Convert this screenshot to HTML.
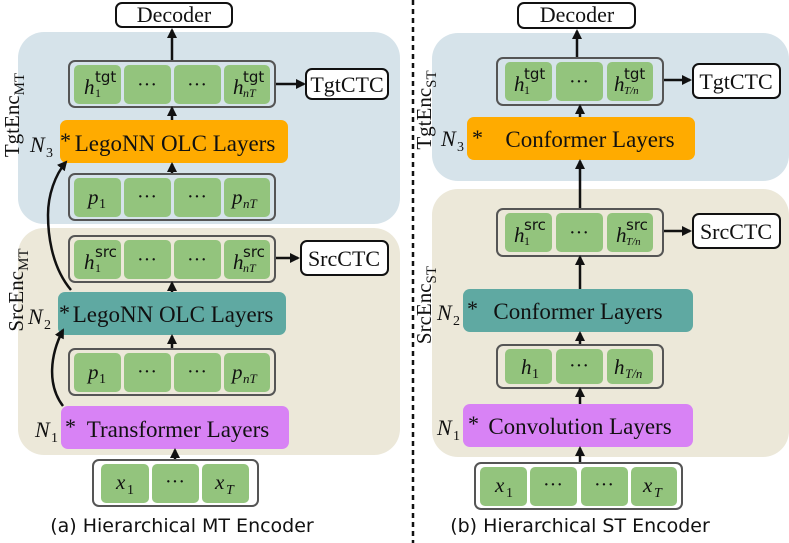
<!DOCTYPE html>
<html><head><meta charset="utf-8"><style>
html,body{margin:0;padding:0;background:#fff;}
svg{display:block;}
.s{font-family:"Liberation Serif",serif;fill:#111;}
.c{font-family:"DejaVu Sans","Liberation Sans",sans-serif;fill:#111;}
.cell{fill:#93c47d;}
.row{fill:none;stroke:#555;stroke-width:2;}
.box{fill:#fff;stroke:#111;stroke-width:2;}
.ar{stroke:#111;stroke-width:2.5;fill:none;}
</style></head><body>
<svg width="789" height="543" viewBox="0 0 789 543" xmlns="http://www.w3.org/2000/svg">
<defs><marker id="m" viewBox="0 0 10 10" refX="8" refY="5" markerWidth="4" markerHeight="4" orient="auto"><path d="M0,0L10,5L0,10z" fill="#111"/></marker></defs>
<rect x="18" y="32" width="382" height="192" rx="26" fill="#d6e3ea"/>
<rect x="18" y="228" width="382" height="227" rx="26" fill="#ece8d9"/>
<rect x="432" y="33" width="357" height="148" rx="26" fill="#d6e3ea"/>
<rect x="432" y="189" width="357" height="268" rx="26" fill="#ece8d9"/>
<line x1="413" y1="0" x2="413" y2="543" stroke="#111" stroke-width="2.5" stroke-dasharray="5,4"/>

<!-- LEFT -->
<rect class="box" x="116" y="3" width="116" height="24" rx="6"/>
<text class="s" x="174" y="22" font-size="22" text-anchor="middle">Decoder</text>
<line class="ar" x1="172" y1="60" x2="172" y2="30" marker-end="url(#m)"/>
<rect class="row" x="69" y="61" width="206" height="46" rx="6"/>
<rect class="cell" x="74" y="65" width="47" height="39" rx="5"/><rect class="cell" x="124" y="65" width="47" height="39" rx="5"/><rect class="cell" x="174" y="65" width="47" height="39" rx="5"/><rect class="cell" x="224" y="65" width="46" height="39" rx="5"/>
<text class="s" x="84" y="94" font-size="21" font-style="italic">h</text><text class="c" x="95" y="82" font-size="15">tgt</text><text class="s" x="95" y="97" font-size="12">1</text>
<text class="s" x="147" y="91" font-size="20" text-anchor="middle">···</text><text class="s" x="197" y="91" font-size="20" text-anchor="middle">···</text>
<text class="s" x="233" y="94" font-size="21" font-style="italic">h</text><text class="c" x="243" y="82" font-size="15">tgt</text><text class="s" x="243" y="97" font-size="12" font-style="italic">nT</text>
<line class="ar" x1="276" y1="84" x2="304" y2="84" marker-end="url(#m)"/>
<rect class="box" x="306" y="69" width="82" height="30" rx="6"/>
<text class="s" x="347" y="92" font-size="22" text-anchor="middle">TgtCTC</text>
<line class="ar" x1="172" y1="120" x2="172" y2="108" marker-end="url(#m)"/>
<rect x="60" y="120" width="228" height="43" rx="7" fill="#ffab00"/>
<text class="s" x="30" y="152" font-size="22" font-style="italic">N</text><text class="s" x="46" y="157" font-size="14">3</text>
<text class="s" x="60" y="148" font-size="22">*</text>
<text class="s" x="175" y="151" font-size="23" text-anchor="middle">LegoNN OLC Layers</text>
<line class="ar" x1="172" y1="174" x2="172" y2="164" marker-end="url(#m)"/>
<rect class="row" x="69" y="174" width="206" height="46" rx="6"/>
<rect class="cell" x="74" y="178" width="47" height="39" rx="5"/><rect class="cell" x="124" y="178" width="47" height="39" rx="5"/><rect class="cell" x="174" y="178" width="47" height="39" rx="5"/><rect class="cell" x="224" y="178" width="46" height="39" rx="5"/>
<text class="s" x="88" y="204" font-size="21" font-style="italic">p</text><text class="s" x="99" y="208" font-size="14">1</text>
<text class="s" x="147" y="203" font-size="20" text-anchor="middle">···</text><text class="s" x="197" y="203" font-size="20" text-anchor="middle">···</text>
<text class="s" x="232" y="204" font-size="21" font-style="italic">p</text><text class="s" x="243" y="208" font-size="13" font-style="italic">nT</text>
<text class="s" transform="translate(19,115) rotate(-90)" font-size="21" text-anchor="middle">TgtEnc<tspan font-size="15" dy="5">MT</tspan></text>

<rect class="row" x="69" y="236" width="206" height="46" rx="6"/>
<rect class="cell" x="74" y="240" width="47" height="39" rx="5"/><rect class="cell" x="124" y="240" width="47" height="39" rx="5"/><rect class="cell" x="174" y="240" width="47" height="39" rx="5"/><rect class="cell" x="224" y="240" width="46" height="39" rx="5"/>
<text class="s" x="84" y="269" font-size="21" font-style="italic">h</text><text class="c" x="95" y="257" font-size="15">src</text><text class="s" x="95" y="272" font-size="12">1</text>
<text class="s" x="147" y="266" font-size="20" text-anchor="middle">···</text><text class="s" x="197" y="266" font-size="20" text-anchor="middle">···</text>
<text class="s" x="233" y="269" font-size="21" font-style="italic">h</text><text class="c" x="243" y="257" font-size="15">src</text><text class="s" x="243" y="272" font-size="12" font-style="italic">nT</text>
<line class="ar" x1="276" y1="258" x2="298" y2="258" marker-end="url(#m)"/>
<rect class="box" x="301" y="241" width="87" height="34" rx="6"/>
<text class="s" x="344" y="266" font-size="22" text-anchor="middle">SrcCTC</text>
<line class="ar" x1="172" y1="292" x2="172" y2="283" marker-end="url(#m)"/>
<rect x="58" y="292" width="228" height="43" rx="7" fill="#5fa9a2"/>
<text class="s" x="28" y="324" font-size="22" font-style="italic">N</text><text class="s" x="44" y="329" font-size="14">2</text>
<text class="s" x="59" y="320" font-size="22">*</text>
<text class="s" x="173" y="322" font-size="23" text-anchor="middle">LegoNN OLC Layers</text>
<line class="ar" x1="172" y1="349" x2="172" y2="336" marker-end="url(#m)"/>
<rect class="row" x="69" y="349" width="206" height="46" rx="6"/>
<rect class="cell" x="74" y="353" width="47" height="39" rx="5"/><rect class="cell" x="124" y="353" width="47" height="39" rx="5"/><rect class="cell" x="174" y="353" width="47" height="39" rx="5"/><rect class="cell" x="224" y="353" width="46" height="39" rx="5"/>
<text class="s" x="88" y="379" font-size="21" font-style="italic">p</text><text class="s" x="99" y="383" font-size="14">1</text>
<text class="s" x="147" y="378" font-size="20" text-anchor="middle">···</text><text class="s" x="197" y="378" font-size="20" text-anchor="middle">···</text>
<text class="s" x="232" y="379" font-size="21" font-style="italic">p</text><text class="s" x="243" y="383" font-size="13" font-style="italic">nT</text>
<rect x="61" y="406" width="228" height="43" rx="7" fill="#d882f5"/>
<text class="s" x="35" y="437" font-size="22" font-style="italic">N</text><text class="s" x="51" y="442" font-size="14">1</text>
<text class="s" x="65" y="434" font-size="22">*</text>
<text class="s" x="178" y="437" font-size="23" text-anchor="middle">Transformer Layers</text>
<text class="s" transform="translate(23,290) rotate(-90)" font-size="21" text-anchor="middle">SrcEnc<tspan font-size="15" dy="5">MT</tspan></text>
<path class="ar" d="M63,406 C47,385 50,355 63,330" marker-end="url(#m)"/>
<path class="ar" d="M71,290 C50,265 48,230 48,215 C48,195 55,175 66,162" marker-end="url(#m)"/>
<line class="ar" x1="175" y1="460" x2="175" y2="450" marker-end="url(#m)"/>
<rect class="row" x="93" y="460" width="165" height="46" rx="6"/>
<rect class="cell" x="101" y="464" width="48" height="39" rx="5"/><rect class="cell" x="152" y="464" width="47" height="39" rx="5"/><rect class="cell" x="202" y="464" width="47" height="39" rx="5"/>
<text class="s" x="116" y="489" font-size="21" font-style="italic">x</text><text class="s" x="127" y="494" font-size="14">1</text>
<text class="s" x="175" y="488" font-size="20" text-anchor="middle">···</text>
<text class="s" x="215" y="489" font-size="21" font-style="italic">x</text><text class="s" x="226" y="494" font-size="14" font-style="italic">T</text>
<text class="c" x="182" y="532" font-size="19" text-anchor="middle">(a) Hierarchical MT Encoder</text>

<!-- RIGHT -->
<rect class="box" x="518" y="3" width="117" height="25" rx="6"/>
<text class="s" x="577" y="22" font-size="22" text-anchor="middle">Decoder</text>
<line class="ar" x1="577" y1="58" x2="577" y2="31" marker-end="url(#m)"/>
<rect class="row" x="497" y="58" width="166" height="47" rx="6"/>
<rect class="cell" x="505" y="62" width="47" height="39" rx="5"/><rect class="cell" x="556" y="62" width="47" height="39" rx="5"/><rect class="cell" x="607" y="62" width="46" height="39" rx="5"/>
<text class="s" x="514" y="91" font-size="21" font-style="italic">h</text><text class="c" x="524" y="79" font-size="15">tgt</text><text class="s" x="524" y="94" font-size="12">1</text>
<text class="s" x="579" y="88" font-size="20" text-anchor="middle">···</text>
<text class="s" x="614" y="91" font-size="21" font-style="italic">h</text><text class="c" x="624" y="79" font-size="15">tgt</text><text class="s" x="624" y="94" font-size="11" font-style="italic">T/n</text>
<line class="ar" x1="664" y1="80" x2="690" y2="80" marker-end="url(#m)"/>
<rect class="box" x="693" y="64" width="87" height="34" rx="6"/>
<text class="s" x="736" y="89" font-size="22" text-anchor="middle">TgtCTC</text>
<line class="ar" x1="580" y1="117" x2="580" y2="106" marker-end="url(#m)"/>
<rect x="467" y="117" width="228" height="43" rx="7" fill="#ffab00"/>
<text class="s" x="441" y="146" font-size="22" font-style="italic">N</text><text class="s" x="457" y="151" font-size="14">3</text>
<text class="s" x="472" y="145" font-size="22">*</text>
<text class="s" x="590" y="147" font-size="23" text-anchor="middle">Conformer Layers</text>
<text class="s" transform="translate(431,110) rotate(-90)" font-size="21" text-anchor="middle">TgtEnc<tspan font-size="15" dy="5">ST</tspan></text>
<line class="ar" x1="580" y1="209" x2="580" y2="161" marker-end="url(#m)"/>
<rect class="row" x="497" y="209" width="166" height="47" rx="6"/>
<rect class="cell" x="505" y="213" width="47" height="39" rx="5"/><rect class="cell" x="556" y="213" width="47" height="39" rx="5"/><rect class="cell" x="607" y="213" width="46" height="39" rx="5"/>
<text class="s" x="514" y="242" font-size="21" font-style="italic">h</text><text class="c" x="524" y="230" font-size="15">src</text><text class="s" x="524" y="245" font-size="12">1</text>
<text class="s" x="579" y="239" font-size="20" text-anchor="middle">···</text>
<text class="s" x="616" y="242" font-size="21" font-style="italic">h</text><text class="c" x="626" y="230" font-size="15">src</text><text class="s" x="626" y="245" font-size="11" font-style="italic">T/n</text>
<line class="ar" x1="664" y1="231" x2="690" y2="231" marker-end="url(#m)"/>
<rect class="box" x="693" y="214" width="87" height="34" rx="6"/>
<text class="s" x="736" y="239" font-size="22" text-anchor="middle">SrcCTC</text>
<line class="ar" x1="580" y1="289" x2="580" y2="257" marker-end="url(#m)"/>
<rect x="463" y="289" width="230" height="43" rx="7" fill="#5fa9a2"/>
<text class="s" x="437" y="320" font-size="22" font-style="italic">N</text><text class="s" x="453" y="325" font-size="14">2</text>
<text class="s" x="467" y="316" font-size="22">*</text>
<text class="s" x="578" y="319" font-size="23" text-anchor="middle">Conformer Layers</text>
<text class="s" transform="translate(431,305) rotate(-90)" font-size="21" text-anchor="middle">SrcEnc<tspan font-size="15" dy="5">ST</tspan></text>
<line class="ar" x1="580" y1="345" x2="580" y2="333" marker-end="url(#m)"/>
<rect class="row" x="497" y="345" width="166" height="43" rx="6"/>
<rect class="cell" x="505" y="349" width="47" height="35" rx="5"/><rect class="cell" x="556" y="349" width="47" height="35" rx="5"/><rect class="cell" x="607" y="349" width="46" height="35" rx="5"/>
<text class="s" x="521" y="374" font-size="21" font-style="italic">h</text><text class="s" x="532" y="378" font-size="14">1</text>
<text class="s" x="579" y="372" font-size="20" text-anchor="middle">···</text>
<text class="s" x="614" y="374" font-size="21" font-style="italic">h</text><text class="s" x="625" y="378" font-size="13" font-style="italic">T/n</text>
<line class="ar" x1="580" y1="404" x2="580" y2="389" marker-end="url(#m)"/>
<rect x="463" y="404" width="230" height="43" rx="7" fill="#d882f5"/>
<text class="s" x="437" y="435" font-size="22" font-style="italic">N</text><text class="s" x="453" y="440" font-size="14">1</text>
<text class="s" x="468" y="431" font-size="22">*</text>
<text class="s" x="580" y="434" font-size="23" text-anchor="middle">Convolution Layers</text>
<line class="ar" x1="580" y1="462" x2="580" y2="448" marker-end="url(#m)"/>
<rect class="row" x="475" y="463" width="207" height="46" rx="6"/>
<rect class="cell" x="480" y="467" width="47" height="39" rx="5"/><rect class="cell" x="530" y="467" width="47" height="39" rx="5"/><rect class="cell" x="581" y="467" width="47" height="39" rx="5"/><rect class="cell" x="631" y="467" width="46" height="39" rx="5"/>
<text class="s" x="495" y="492" font-size="21" font-style="italic">x</text><text class="s" x="506" y="497" font-size="14">1</text>
<text class="s" x="553" y="491" font-size="20" text-anchor="middle">···</text><text class="s" x="604" y="491" font-size="20" text-anchor="middle">···</text>
<text class="s" x="643" y="492" font-size="21" font-style="italic">x</text><text class="s" x="654" y="497" font-size="14" font-style="italic">T</text>
<text class="c" x="580" y="532" font-size="19" text-anchor="middle">(b) Hierarchical ST Encoder</text>
</svg>
</body></html>
